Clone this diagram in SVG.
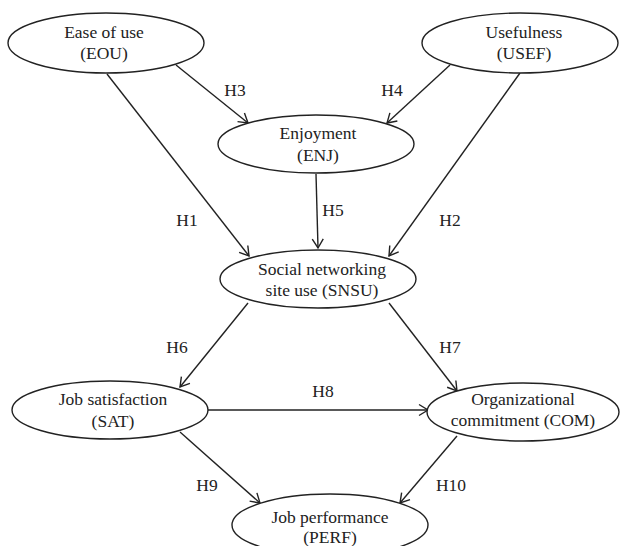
<svg xmlns="http://www.w3.org/2000/svg" width="620" height="546" viewBox="0 0 620 546">
<style>
.n ellipse{fill:#fff;stroke:#222;stroke-width:1.4}
text{font-family:"Liberation Serif","Times New Roman","DejaVu Serif",serif;font-size:17.5px;fill:#222;text-anchor:middle}
.c line{stroke:#222;stroke-width:1.4;marker-end:url(#a)}
</style>
<defs>
<marker id="a" markerUnits="userSpaceOnUse" markerWidth="14" markerHeight="14" viewBox="0 0 14 14" refX="12" refY="7" orient="auto">
<path d="M3,1.5 L12,7 L3,12.5" fill="none" stroke="#222" stroke-width="1.4"/>
</marker>
</defs>
<g class="c" id="connectors">
<line x1="107" y1="74" x2="249" y2="256"/>
<line x1="520" y1="73" x2="389" y2="256"/>
<line x1="176" y1="65" x2="248" y2="123"/>
<line x1="450" y1="65" x2="387" y2="123"/>
<line x1="316" y1="174" x2="318" y2="248"/>
<line x1="248" y1="303" x2="180" y2="387"/>
<line x1="389" y1="303" x2="457" y2="391"/>
<line x1="207" y1="410" x2="428" y2="410"/>
<line x1="180" y1="432" x2="260" y2="503"/>
<line x1="457" y1="436" x2="400" y2="503"/>
</g>
<g id="labels">
<text x="187" y="226">H1</text>
<text x="450" y="226">H2</text>
<text x="235" y="96">H3</text>
<text x="392" y="96">H4</text>
<text x="333" y="216">H5</text>
<text x="177" y="353">H6</text>
<text x="450" y="353">H7</text>
<text x="323" y="397">H8</text>
<text x="207" y="491">H9</text>
<text x="451" y="491">H10</text>
</g>
<g class="n" id="EOU"><ellipse cx="106" cy="43" rx="98" ry="30"/><text x="104" y="38">Ease of use</text><text x="104" y="59">(EOU)</text></g>
<g class="n" id="USEF"><ellipse cx="520" cy="43" rx="98" ry="30"/><text x="524" y="38">Usefulness</text><text x="524" y="59">(USEF)</text></g>
<g class="n" id="ENJ"><ellipse cx="316" cy="144" rx="98" ry="29"/><text x="318" y="139">Enjoyment</text><text x="318" y="161">(ENJ)</text></g>
<g class="n" id="SNSU"><ellipse cx="318" cy="279" rx="98" ry="29"/><text x="322" y="275">Social networking</text><text x="322" y="296">site use (SNSU)</text></g>
<g class="n" id="SAT"><ellipse cx="110" cy="410" rx="98" ry="29"/><text x="113" y="405">Job satisfaction</text><text x="113" y="427">(SAT)</text></g>
<g class="n" id="COM"><ellipse cx="523" cy="412" rx="96" ry="29"/><text x="523" y="405">Organizational</text><text x="523" y="426">commitment (COM)</text></g>
<g class="n" id="PERF"><ellipse cx="330" cy="525" rx="98" ry="31"/><text x="330" y="523">Job performance</text><text x="330" y="543">(PERF)</text></g>
</svg>
